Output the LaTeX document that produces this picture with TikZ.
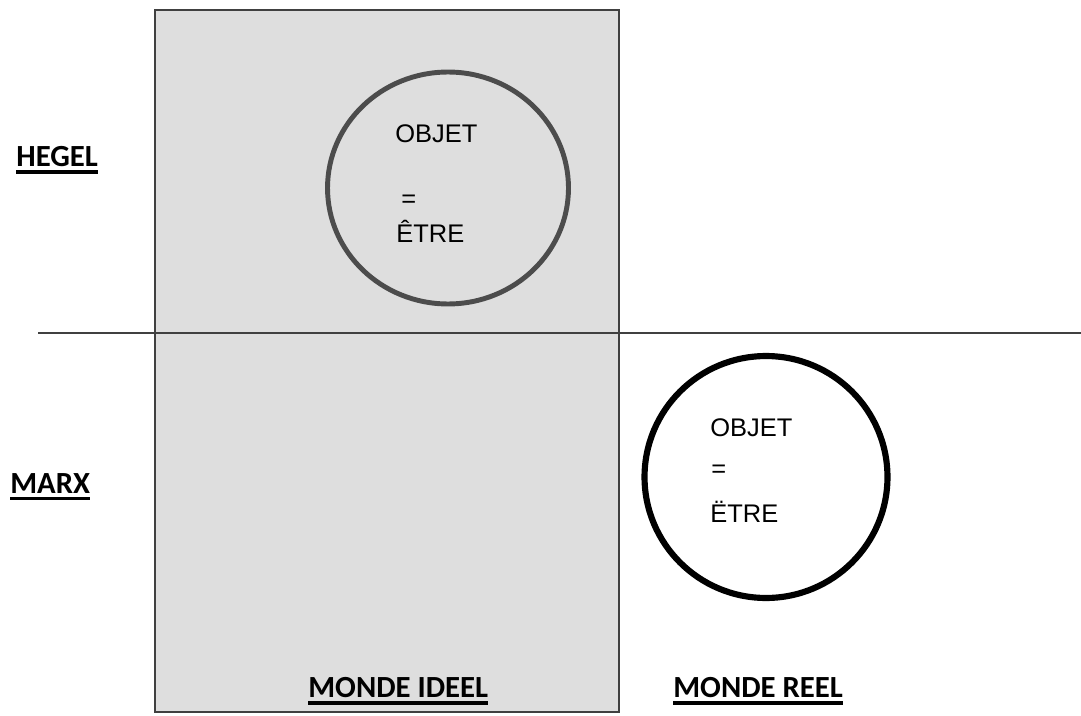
\documentclass[tikz,border=0pt]{standalone}
\usepackage{fontspec}
\setmainfont{Liberation Sans}
\newfontfamily\labelfont{Carlito}
\usepackage{tikz}
\usetikzlibrary{shapes.geometric}
\usepackage{xcolor}

\newcommand{\ulword}[1]{\setbox0\hbox{#1}\rlap{\rule[-4pt]{\wd0}{1.8pt}}\box0}

\begin{document}
\begin{tikzpicture}[
  x=0.02cm, y=-0.02cm,
  every node/.style={inner sep=0pt},
  side/.style   ={anchor=west, font=\labelfont\bfseries\fontsize{17.5}{20}\selectfont},
  word/.style   ={anchor=base west, font=\fontsize{14.5}{17}\selectfont},
  ring/.style   ={ellipse, draw, line width=2.8pt}
]

%% Frame of the picture
\useasboundingbox (0,0) rectangle (1081,716);

%% Ideal world (grey box) and the dividing line
\draw[fill=black!13, draw=black!75, line width=0.9pt] (155,10) rectangle (619,712);
\draw[black!75, line width=0.9pt] (38,333) -- (1081,333);

%% Hegel: object inside the ideal world
\node[ring, draw=black!70, minimum width=4.82cm, minimum height=4.64cm] (ringH) at (448,188) {};
\node[word] (objH)  at (395,143) {OBJET};
\node[word] (eqH)   at (401,208) {=};
\node[word] (etreH) at (396,242) {ÊTRE};

%% Marx: object in the real world
\node[ring, draw=black, line width=3.5pt, minimum width=4.86cm, minimum height=4.84cm] (ringM) at (766,477) {};
\node[word] (objM)  at (710,436) {OBJET};
\node[word] (eqM)   at (711,477) {=};
\node[word] (etreM) at (710,522) {ËTRE};

%% Row and column labels
\node[side] (hegel) at (16,160) {\ulword{HEGEL}};
\node[side] (marx)  at (10,487) {\ulword{MARX}};
\node[side] (ideal) at (308,691) {\ulword{MONDE IDEEL}};
\node[side] (reel)  at (673,691) {\ulword{MONDE REEL}};

\end{tikzpicture}
\end{document}
